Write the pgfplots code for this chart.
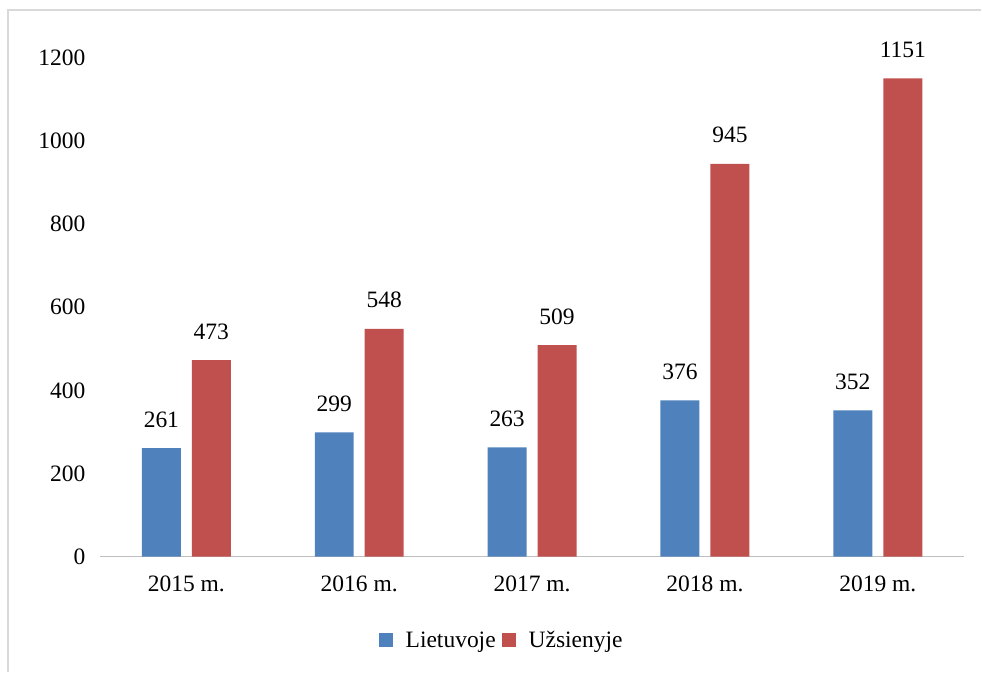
\documentclass[border=0pt]{standalone}
\usepackage{pgfplots}
\pgfplotsset{compat=1.18}
\usepackage{fontspec}
\setmainfont{Liberation Serif}
\definecolor{cblue}{HTML}{4F81BD}
\definecolor{cred}{HTML}{C0504D}
\definecolor{axgray}{HTML}{BFBFBF}
\definecolor{frgray}{HTML}{D9D9D9}
\newcommand\cf{\fontsize{23.5bp}{28bp}\selectfont}
\begin{document}
\begin{tikzpicture}
\begin{axis}[
  scale only axis, width=865bp, height=499bp,
  xmin=-0.5, xmax=4.5, ymin=0, ymax=1200,
  enlargelimits=false,
  ybar=11bp, bar width=39bp,
  axis x line*=bottom, axis y line*=left,
  x axis line style={draw=axgray, line width=1.2bp},
  y axis line style={draw=none},
  major tick length=0pt,
  xtick=data, xticklabels={2015 m.,2016 m.,2017 m.,2018 m.,2019 m.},
  ytick={0,200,...,1200},
  /pgf/number format/assume math mode=true,
  /pgf/number format/1000 sep={},
  ticklabel style={font=\cf},
  yticklabel style={xshift=-11bp},
  xticklabel style={yshift=-16bp},
  nodes near coords,
  every node near coord/.append style={font=\cf, anchor=base, yshift=21bp, black},
  legend columns=2,
  legend style={draw=none, font=\cf, at={(0,0)}, anchor=north west, xshift=279bp, yshift=-75bp,
    inner sep=0pt, outer sep=0pt, column sep=13bp,
    nodes={inner sep=0pt},
    /tikz/every even column/.append style={column sep=6bp}},
  legend image code/.code={\fill[#1] (0bp,-7bp) rectangle (14bp,7bp);},
]
\addplot[fill=cblue, draw=none] coordinates {(0,261) (1,299) (2,263) (3,376) (4,352)};
\addplot[fill=cred, draw=none] coordinates {(0,473) (1,548) (2,509) (3,945) (4,1151)};
\legend{Lietuvoje, Užsienyje}
\end{axis}
\draw[frgray, line width=1.5bp] ([shift={(-92bp,-116bp)}]current axis.south west) -- ([shift={(-92bp,547bp)}]current axis.south west) -- ([shift={(882bp,547bp)}]current axis.south west);
\path ([shift={(-100bp,-116bp)}]current axis.south west) rectangle ([shift={(882bp,557bp)}]current axis.south west);
\end{tikzpicture}
\end{document}
